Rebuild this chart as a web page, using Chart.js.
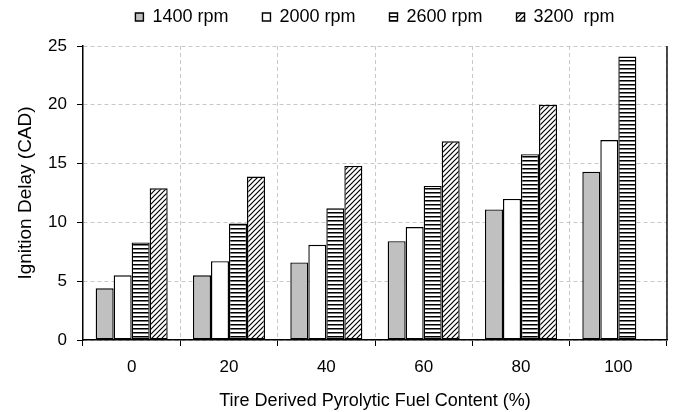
<!DOCTYPE html>
<html>
<head>
<meta charset="utf-8">
<script src="https://cdn.jsdelivr.net/npm/chart.js@4/dist/chart.umd.min.js"></script>
<style>
  html, body { margin: 0; padding: 0; background: #fff; }
  #wrap { width: 673px; height: 412px; }
</style>
</head>
<body>
<div id="wrap"><canvas id="chart" width="673" height="412"></canvas></div>
<script>
const categories = ["0", "20", "40", "60", "80", "100"];
const seriesLabels = ["1400 rpm", "2000 rpm", "2600 rpm", "3200  rpm"];
const rpm1400 = [4.4, 5.5, 6.6, 8.4, 11.1, 14.3];
const rpm2000 = [5.5, 6.7, 8.1, 9.6, 12.0, 17.0];
const rpm2600 = [8.3, 9.9, 11.2, 13.1, 15.8, 24.1];
const rpm3200 = [12.9, 13.9, 14.8, 16.9, 20.0, 0];
const yTicks = [0, 5, 10, 15, 20, 25];

const FONT = "'Liberation Sans', Arial, sans-serif";

function stripePattern() {
  const c = document.createElement("canvas");
  c.width = 4; c.height = 4;
  const g = c.getContext("2d");
  g.fillStyle = "#fff"; g.fillRect(0, 0, 4, 4);
  g.fillStyle = "#000"; g.fillRect(0, 0, 4, 1);
  g.fillStyle = "#7a7a7a"; g.fillRect(0, 1, 4, 1);
  return g.createPattern(c, "repeat");
}

function hatchPattern() {
  const c = document.createElement("canvas");
  c.width = 5; c.height = 5;
  const g = c.getContext("2d");
  g.fillStyle = "#fff"; g.fillRect(0, 0, 5, 5);
  g.strokeStyle = "#000"; g.lineWidth = 1.2;
  g.beginPath();
  g.moveTo(-1, 6); g.lineTo(6, -1);
  g.moveTo(-1, 1); g.lineTo(1, -1);
  g.moveTo(4, 6); g.lineTo(6, 4);
  g.stroke();
  return g.createPattern(c, "repeat");
}

const fills = ["#c0c0c0", "#ffffff", stripePattern(), hatchPattern()];
const values = [rpm1400, rpm2000, rpm2600, rpm3200];

// legend sits above the plot, plus a solid right edge on the plot frame
const frame = {
  id: "frame",
  beforeInit(chart) {
    const fit = chart.legend.fit;
    chart.legend.fit = function () {
      fit.call(this);
      this.height = 72;
    };
  },
  afterDraw(chart) {
    const { ctx, chartArea: a } = chart;
    ctx.save();
    ctx.strokeStyle = "#000";
    ctx.lineWidth = 1.4;
    ctx.beginPath();
    ctx.moveTo(a.right, a.top);
    ctx.lineTo(a.right, a.bottom);
    ctx.stroke();
    ctx.restore();
  }
};

new Chart(document.getElementById("chart"), {
  type: "bar",
  data: {
    labels: categories,
    datasets: values.map((v, i) => ({
      label: seriesLabels[i],
      data: v,
      backgroundColor: fills[i],
      borderColor: "#000",
      borderWidth: 1.4,
      borderSkipped: false,
      categoryPercentage: 0.74,
      barPercentage: 1.0
    }))
  },
  options: {
    responsive: false,
    animation: false,
    layout: { padding: { left: 4, right: 6, top: -26, bottom: 0 } },
    plugins: {
      tooltip: { enabled: false },
      legend: {
        position: "top",
        fullSize: false,
        labels: {
          boxWidth: 8,
          boxHeight: 8,
          padding: 34,
          color: "#000",
          font: { family: FONT, size: 18 }
        }
      }
    },
    scales: {
      x: {
        grid: { color: "#c8c8c8", lineWidth: 1, tickColor: "#000", tickLength: 6, offset: true },
        border: { color: "#000", width: 1.5, dash: [4, 3] },
        ticks: { color: "#000", font: { family: FONT, size: 17 }, padding: 11 },
        title: {
          display: true,
          text: "Tire Derived Pyrolytic Fuel Content (%)",
          color: "#000",
          font: { family: FONT, size: 18 },
          padding: { top: 2, bottom: 0 }
        }
      },
      y: {
        min: 0,
        max: 25,
        afterBuildTicks: (s) => { s.ticks = yTicks.map((v) => ({ value: v })); },
        afterFit: (s) => { s.width = 79; },
        grid: { color: "#c8c8c8", lineWidth: 1, tickColor: "#000", tickLength: 6 },
        border: { color: "#000", width: 1.5, dash: [4, 3] },
        ticks: { color: "#000", font: { family: FONT, size: 17 }, padding: 10 },
        title: {
          display: true,
          text: "Ignition Delay (CAD)",
          color: "#000",
          font: { family: FONT, size: 19 },
          padding: { top: 10, bottom: 0 }
        }
      }
    }
  },
  plugins: [frame]
});
</script>
</body>
</html>
